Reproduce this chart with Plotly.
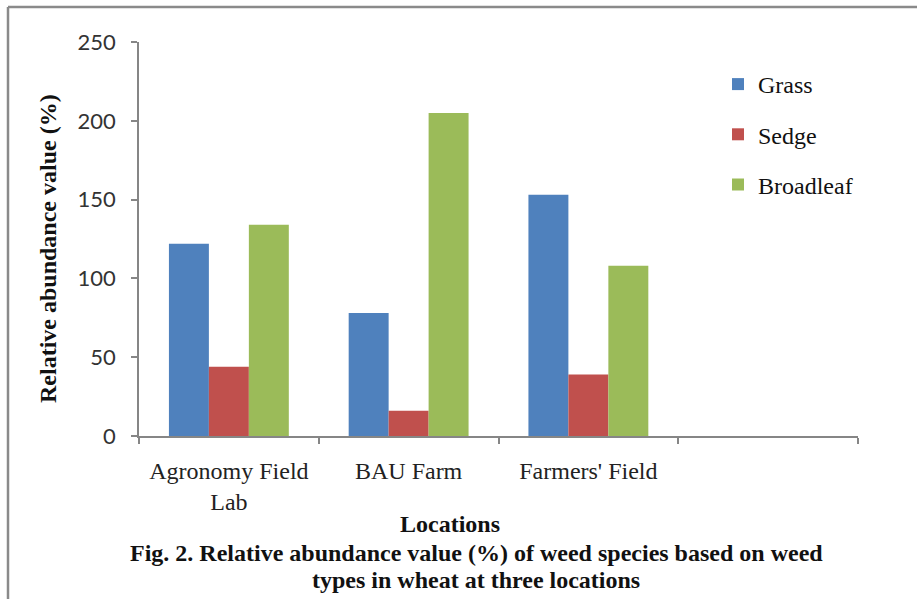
import plotly.graph_objects as go

# ---- data ----
locations = ["Agronomy Field<br>Lab", "BAU Farm", "Farmers' Field", " "]
grass = [122, 78, 153]
sedge = [44, 16, 39]
broadleaf = [134, 205, 108]
series_names = ["Grass", "Sedge", "Broadleaf"]
colors = ["#4F81BD", "#C0504D", "#9BBB59"]
y_ticks = [0, 50, 100, 150, 200, 250]
caption_lines = [
    "Fig. 2. Relative abundance value (%) of weed species based on weed",
    "types in wheat at three locations",
]

W, H = 917, 599
L, R, T, B = 139, 858, 42, 436  # plot area pixels


def px(xp):
    return (xp - L) / (R - L)


def py(yp):
    return (B - yp) / (B - T)


fig = go.Figure()
for i, (name, vals) in enumerate(zip(series_names, [grass, sedge, broadleaf])):
    fig.add_trace(go.Bar(
        x=locations[:3], y=vals, name=name,
        marker=dict(color=colors[i], line=dict(width=0)),
        legendgroup=name,
    ))

axis_col = "#868686"
serif = "Liberation Serif"
annotations = [
    dict(text="<b>Relative abundance value (%)</b>", textangle=-90,
         xref="paper", yref="paper", x=px(48), y=py(249),
         showarrow=False, xanchor="center", yanchor="middle",
         font=dict(family=serif, size=24, color="#111")),
    dict(text="<b>Locations</b>",
         xref="paper", yref="paper", x=px(450), y=py(524),
         showarrow=False, xanchor="center", yanchor="middle",
         font=dict(family=serif, size=24, color="#111")),
]
for k, line in enumerate(caption_lines):
    annotations.append(dict(
        text="<b>" + line + "</b>",
        xref="paper", yref="paper", x=px(476), y=py(553 + 27 * k),
        showarrow=False, xanchor="center", yanchor="middle",
        font=dict(family=serif, size=24, color="#111")))

fig.update_layout(
    width=W, height=H,
    margin=dict(l=L, r=W - R, t=T, b=H - B, pad=0),
    paper_bgcolor="white", plot_bgcolor="white",
    barmode="group", bargap=0.333, bargroupgap=0,
    showlegend=True,
    legend=dict(
        x=px(718), y=py(62), xanchor="left", yanchor="top",
        font=dict(family=serif, size=24, color="#111"),
        tracegroupgap=16, itemwidth=30, bgcolor="rgba(0,0,0,0)",
    ),
    xaxis=dict(
        type="category", categoryorder="array", categoryarray=locations,
        range=[-0.5, 3.5], tickson="boundaries",
        showline=True, linecolor=axis_col, linewidth=1.5,
        ticks="outside", ticklen=6, tickcolor=axis_col, tickwidth=1.5,
        tickfont=dict(family=serif, size=24, color="#222"),
        ticklabelstandoff=12,
        showgrid=False, zeroline=False, fixedrange=True,
    ),
    yaxis=dict(
        range=[0, 250], tickvals=y_ticks,
        showline=True, linecolor=axis_col, linewidth=1.5,
        ticks="outside", ticklen=6, tickcolor=axis_col, tickwidth=1.5,
        tickfont=dict(family="Lato", size=22, color="#333"),
        ticklabelstandoff=11,
        showgrid=False, zeroline=False, fixedrange=True,
    ),
    shapes=[
        dict(type="line", xref="paper", yref="paper",
             x0=px(8), x1=px(917), y0=py(7), y1=py(7),
             line=dict(color="#8a8a8a", width=2.5)),
        dict(type="line", xref="paper", yref="paper",
             x0=px(8), x1=px(8), y0=py(7), y1=py(599),
             line=dict(color="#8a8a8a", width=2.5)),
    ],
    annotations=annotations,
)

fig.write_html("out.html")
